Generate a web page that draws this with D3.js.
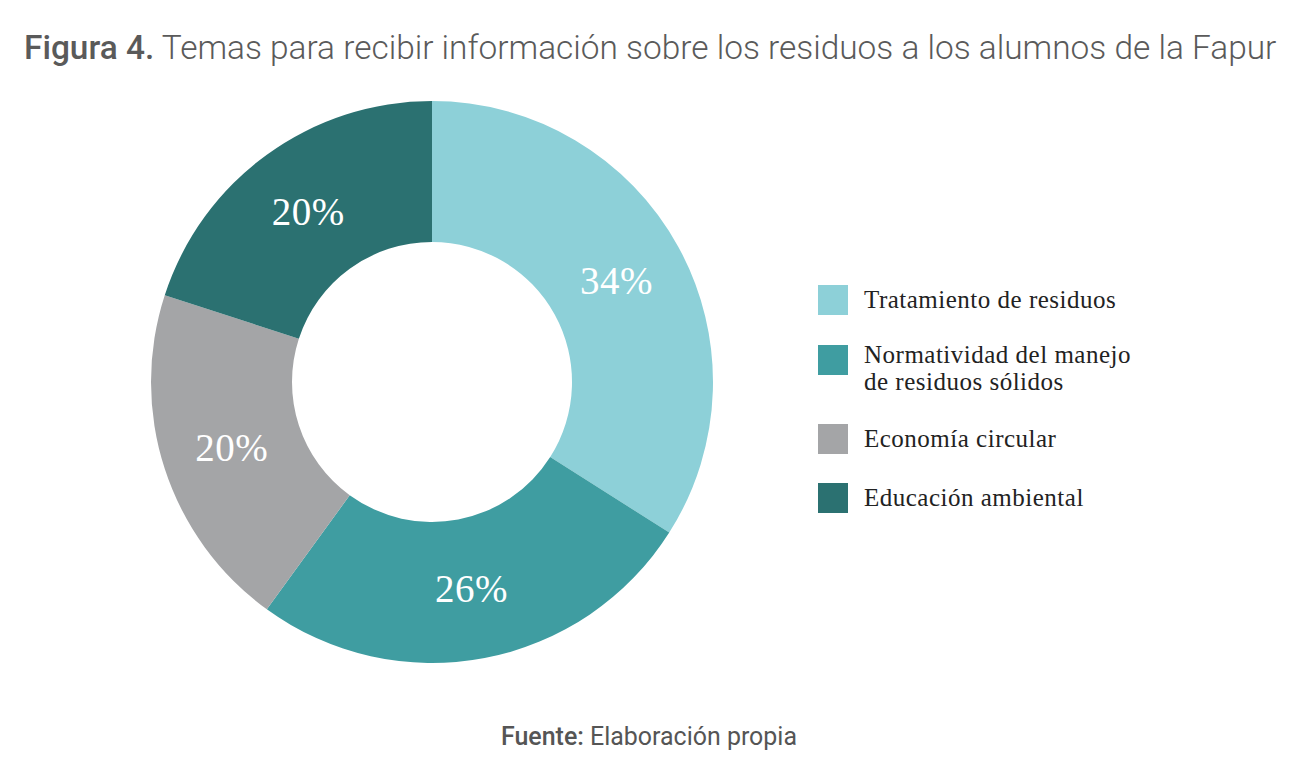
<!DOCTYPE html>
<html>
<head>
<meta charset="utf-8">
<script src="https://cdn.jsdelivr.net/npm/d3@7"></script>
<style>
  body { margin: 0; background: #fff; }
  svg { display: block; }
</style>
</head>
<body>
<svg id="chart" width="1299" height="780"></svg>
<script>
const categories = [
  'Tratamiento de residuos',
  'Normatividad del manejo de residuos sólidos',
  'Economía circular',
  'Educación ambiental',
];
const values = [34, 26, 20, 20];
const legendLines = [
  ['Tratamiento de residuos'],
  ['Normatividad del manejo', 'de residuos sólidos'],
  ['Economía circular'],
  ['Educación ambiental'],
];
const colors = ['#8dd0d8', '#3f9da1', '#a4a5a7', '#2b7171'];

const svg = d3.select('#chart');

const size = {
  cx: 432,
  cy: 382,
  outer: 281,
  inner: 140,
};

const data = categories.map((c, i) => ({ name: c, value: values[i], lines: legendLines[i] }));

const color = d3.scaleOrdinal().domain(categories).range(colors);

const pie = d3.pie().value(d => d.value).sort(null);
const arc = d3.arc().innerRadius(size.inner).outerRadius(size.outer);

// scale a text's font size so that it spans the given width
const fitText = (el, width) => {
  const fs = parseFloat(el.attr('font-size'));
  const len = el.node().getComputedTextLength();
  el.attr('font-size', fs * width / len);
};

// title
const title = svg.append('text')
  .attr('x', 24)
  .attr('y', 59)
  .attr('font-family', 'Roboto, "Liberation Sans", sans-serif')
  .attr('font-size', 32)
  .attr('fill', '#5a5a5a');
title.append('tspan').attr('font-weight', 500).text('Figura 4.');
title.append('tspan').attr('font-weight', 300).text(' Temas para recibir información sobre los residuos a los alumnos de la Fapur');
fitText(title, 1253);

// donut
const g = svg.append('g').attr('transform', `translate(${size.cx},${size.cy})`);

const slices = pie(data);

g.selectAll('path')
  .data(slices)
  .join('path')
  .attr('d', arc)
  .attr('fill', d => color(d.data.name));

g.selectAll('text.pct')
  .data(slices)
  .join('text')
  .attr('class', 'pct')
  .attr('transform', d => `translate(${arc.centroid(d)})`)
  .attr('text-anchor', 'middle')
  .attr('dy', '0.35em')
  .attr('font-family', '"Liberation Serif", "DejaVu Serif", serif')
  .attr('font-size', 39)
  .attr('letter-spacing', 0.5)
  .attr('fill', '#fff')
  .text(d => d.data.value + '%');

// legend
const legendTop = [300, 360, 439, 498];

const legend = svg.append('g')
  .selectAll('g')
  .data(data)
  .join('g')
  .attr('transform', (d, i) => `translate(818, ${legendTop[i]})`);

legend.append('rect')
  .attr('x', 0)
  .attr('y', -15)
  .attr('width', 30)
  .attr('height', 30)
  .attr('fill', d => color(d.name));

legend.append('text')
  .attr('font-family', '"Liberation Serif", "DejaVu Serif", serif')
  .attr('font-size', 25)
  .attr('letter-spacing', 0.5)
  .attr('fill', '#222')
  .each(function(d) {
    const t = d3.select(this);
    const n = d.lines.length;
    d.lines.forEach((line, j) => {
      t.append('tspan')
        .attr('x', 46)
        .attr('y', 8 + j * 27 - (n - 1) * 5)
        .text(line);
    });
  });

// source
const source = svg.append('text')
  .attr('x', 649)
  .attr('y', 745)
  .attr('text-anchor', 'middle')
  .attr('font-family', 'Roboto, "Liberation Sans", sans-serif')
  .attr('font-size', 22)
  .attr('fill', '#555');
source.append('tspan').attr('font-weight', 500).text('Fuente:');
source.append('tspan').attr('font-weight', 400).text(' Elaboración propia');
fitText(source, 296);
</script>
</body>
</html>
